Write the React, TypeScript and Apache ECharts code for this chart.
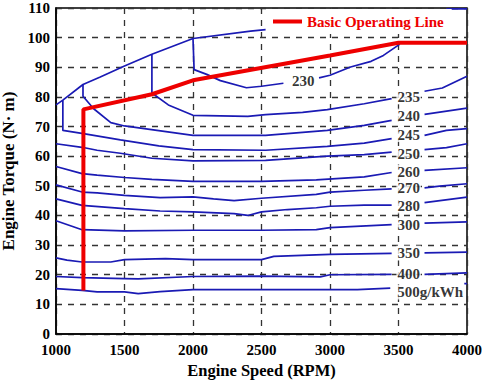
import React, { useEffect, useRef } from "react";
import * as echarts from "echarts";

// Engine speed (RPM) / torque (N·m) points of each BSFC contour, split where labels break them
const boundary = [[[1000, 77.3], [1050, 78.9], [1197, 84.2], [1323, 86.7], [1500, 90.4], [1700, 94.4], [2000, 99.7], [2420, 102.2], [2530, 102.7]]];
const topPiece = [[[3850, 109.7], [4000, 109.7]]];
const c230 = [
  [[2000, 99.7], [2008, 89.2], [2100, 87.6], [2200, 85.5], [2390, 83.1], [2500, 83.6], [2660, 84.6]],
  [[2920, 86.4], [3000, 87.3], [3150, 90.1], [3300, 92.0], [3390, 94.0], [3510, 97.8]],
];
const c235 = [
  [[1700, 94.4], [1700, 81.3], [1820, 77.3], [2000, 73.8], [2400, 73.4], [2530, 74.0], [2800, 74.8], [2980, 75.7], [3250, 77.7], [3450, 79.4]],
  [[3690, 81.9], [3820, 83.0], [4000, 87.0]],
];
const c240 = [
  [[1197, 84.2], [1197, 80.2], [1275, 76.0], [1400, 71.3], [1500, 70.2], [1750, 68.6], [2000, 67.0], [2530, 67.0], [2980, 68.7], [3250, 70.4], [3450, 72.1]],
  [[3690, 74.1], [4000, 76.2]],
];
const c245 = [
  [[1050, 78.9], [1050, 68.7], [1200, 67.6], [1470, 65.5], [1750, 63.5], [2000, 62.2], [2530, 62.0], [2980, 63.3], [3250, 64.4], [3450, 65.9]],
  [[3690, 67.0], [3850, 68.7], [4000, 69.3]],
];
const c250 = [
  [[1000, 64.2], [1190, 63.0], [1300, 62.0], [1470, 61.0], [1700, 59.3], [2000, 58.4], [2530, 58.6], [2980, 60.0], [3250, 60.5], [3450, 61.4]],
  [[3690, 62.2], [3850, 62.9], [4000, 64.2]],
];
const c260 = [
  [[1000, 56.5], [1190, 54.1], [1300, 53.6], [1500, 52.8], [1700, 52.2], [2000, 51.5], [2500, 51.5], [2900, 52.0], [3250, 53.0], [3450, 54.5]],
  [[3690, 55.2], [4000, 56.1]],
];
const c270 = [
  [[1000, 50.3], [1190, 47.9], [1300, 47.6], [1500, 46.8], [1760, 46.0], [2000, 46.3], [2150, 45.6], [2300, 45.0], [2500, 45.8], [2900, 47.1], [3000, 47.9], [3250, 48.5], [3450, 49.0]],
  [[3690, 49.3], [3800, 49.9], [4000, 50.7]],
];
const c280 = [
  [[1000, 45.6], [1190, 43.4], [1500, 42.3], [1760, 41.5], [2000, 41.2], [2300, 40.6], [2400, 40.0], [2500, 41.2], [2690, 42.0], [2900, 42.6], [3000, 43.1], [3250, 43.5], [3450, 43.5]],
  [[3690, 44.3], [4000, 46.2]],
];
const c300 = [
  [[1000, 38.2], [1190, 35.2], [1500, 34.8], [2000, 35.0], [2500, 35.0], [2900, 35.2], [3000, 35.9], [3450, 36.9]],
  [[3690, 37.4], [4000, 37.8]],
];
const c350 = [
  [[1000, 25.7], [1080, 24.9], [1190, 24.3], [1400, 24.3], [1500, 25.1], [1800, 25.4], [2000, 25.1], [2500, 25.1], [2590, 26.2], [3000, 26.9], [3450, 27.2]],
  [[3690, 27.4], [4000, 27.6]],
];
const c400 = [
  [[1000, 19.4], [1190, 19.0], [1500, 18.7], [1600, 18.6], [2000, 19.4], [2500, 19.5], [2930, 19.3], [3000, 20.0], [3450, 20.1]],
  [[3690, 20.1], [4000, 20.6]],
];
const c500 = [
  [[1000, 15.3], [1190, 14.7], [1300, 14.2], [1500, 14.2], [1600, 13.6], [1760, 14.3], [2000, 15.0], [2500, 15.0], [3200, 15.0], [3440, 15.5]],
  [[3980, 17.0], [4000, 17.0]],
];
const operatingLine = [[1200, 14.7], [1200, 75.8], [1700, 80.9], [2000, 85.6], [3000, 94.0], [3500, 98.3], [4000, 98.3]];

const contourLabels = ["230", "235", "240", "245", "250", "260", "270", "280", "300", "350", "400", "500g/kWh"];
const labelSpeeds = [2805, 3574, 3574, 3574, 3574, 3574, 3574, 3574, 3574, 3574, 3574, 3732];
const labelTorques = [85.3, 80.0, 73.5, 67.3, 60.9, 54.7, 49.1, 43.2, 36.7, 27.3, 20.4, 14.2];

const FONT = "Liberation Serif";
const BLUE = "#1a1ab4";

export default function App() {
  const ref = useRef<HTMLDivElement>(null);
  useEffect(() => {
    const chart = echarts.init(ref.current!, null, { renderer: "svg" });
    const contours = [boundary, topPiece, c230, c235, c240, c245, c250, c260, c270, c280, c300, c350, c400, c500];
    const series: any[] = [];
    contours.forEach((c) =>
      c.forEach((seg) =>
        series.push({
          type: "line",
          name: "contour",
          data: seg,
          symbol: "none",
          lineStyle: { color: BLUE, width: 1.7 },
          z: 2,
        })
      )
    );
    series.push({
      type: "scatter",
      name: "labels",
      symbolSize: 0.1,
      itemStyle: { color: "rgba(0,0,0,0)" },
      data: contourLabels.map((n, i) => ({ name: n, value: [labelSpeeds[i], labelTorques[i]] })),
      label: {
        show: true,
        position: "inside",
        formatter: "{b}",
        fontFamily: FONT,
        fontWeight: "bold",
        fontSize: 15,
        color: "#000",
        backgroundColor: "#fff",
        padding: [0, 1],
      },
      z: 4,
    });
    series.push({
      type: "line",
      name: "Basic Operating Line",
      data: operatingLine,
      symbol: "none",
      lineStyle: { color: "#ee0000", width: 4 },
      itemStyle: { color: "#ee0000" },
      z: 3,
    });
    const tickFmt = (v: number) => String(v);
    chart.setOption({
      animation: false,
      backgroundColor: "#fff",
      textStyle: { fontFamily: FONT },
      grid: {
        left: 56,
        right: 15,
        top: 8,
        bottom: 50,
        containLabel: false,
        outerBoundsMode: "none",
        show: true,
        borderColor: "#000",
        borderWidth: 1.5,
        backgroundColor: "transparent",
      },
      legend: {
        data: ["Basic Operating Line"],
        left: 268,
        top: 9,
        padding: [5, 8, 5, 5],
        backgroundColor: "#fff",
        itemWidth: 29,
        itemHeight: 4,
        icon: "rect",
        textStyle: { color: "#ee0000", fontFamily: FONT, fontWeight: "bold", fontSize: 15 },
        z: 10,
      },
      xAxis: {
        type: "value",
        min: 1000,
        max: 4000,
        interval: 500,
        name: "Engine Speed (RPM)",
        nameLocation: "middle",
        nameGap: 27,
        nameTextStyle: { fontFamily: FONT, fontWeight: "bold", fontSize: 16.5, color: "#000" },
        axisLine: { show: true, lineStyle: { color: "#000", width: 1.5 } },
        axisTick: { show: false },
        axisLabel: { formatter: tickFmt, fontFamily: FONT, fontWeight: "bold", fontSize: 15, color: "#000", margin: 8 },
        splitLine: { show: true, lineStyle: { color: "#333", type: [6, 6], width: 1.3 } },
      },
      yAxis: {
        type: "value",
        min: 0,
        max: 110,
        interval: 10,
        name: "Engine Torque (N· m)",
        nameLocation: "middle",
        nameGap: 26,
        nameTextStyle: { fontFamily: FONT, fontWeight: "bold", fontSize: 17, color: "#000" },
        axisLine: { show: true, lineStyle: { color: "#000", width: 1.5 } },
        axisTick: { show: false },
        axisLabel: { formatter: tickFmt, fontFamily: FONT, fontWeight: "bold", fontSize: 15, color: "#000", margin: 6 },
        splitLine: { show: true, lineStyle: { color: "#333", type: [6, 6], width: 1.3 } },
      },
      series,
    });
    return () => chart.dispose();
  }, []);
  return <div ref={ref} style={{ position: "fixed", left: 0, top: 0, width: 482, height: 384 }} />;
}
